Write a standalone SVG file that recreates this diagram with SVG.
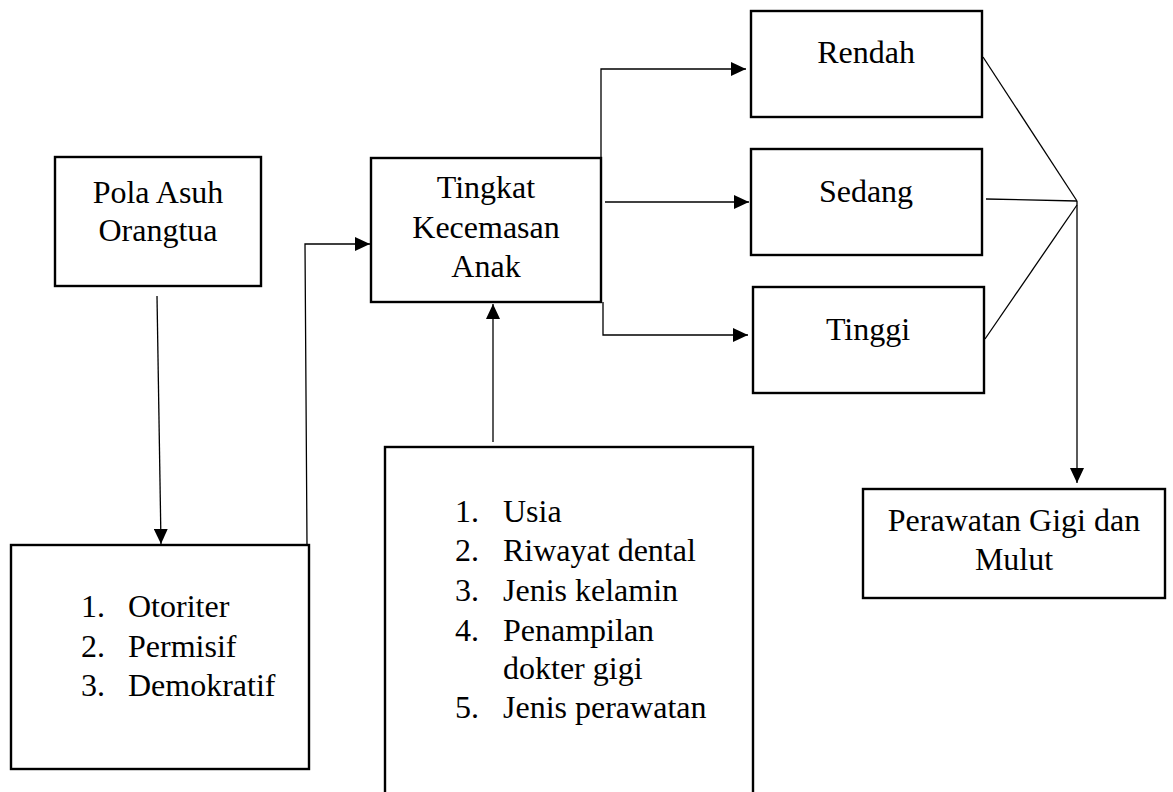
<svg xmlns="http://www.w3.org/2000/svg" width="1173" height="792" viewBox="0 0 1173 792">
<style>
.box{fill:#fff;stroke:#000;stroke-width:2.4}
.t{font-family:"Liberation Serif","Times New Roman",serif;font-size:32px;fill:#000}
.c{text-anchor:middle}
.ln{fill:none;stroke:#000;stroke-width:1.3}
</style>
<defs>
<marker id="ah" markerUnits="userSpaceOnUse" markerWidth="16" markerHeight="14" refX="15" refY="7" orient="auto">
<path d="M0,0 L15,7 L0,14 z" fill="#000"/>
</marker>
</defs>
<rect width="1173" height="792" fill="#fff"/>
<g id="connectors">
<line class="ln" x1="157" y1="296" x2="161" y2="544" marker-end="url(#ah)"/>
<polyline class="ln" points="307,545 305,244 370,244" marker-end="url(#ah)"/>
<line class="ln" x1="493" y1="442" x2="493" y2="304" marker-end="url(#ah)"/>
<polyline class="ln" points="601,158 601,69 746,69" marker-end="url(#ah)"/>
<line class="ln" x1="605" y1="202" x2="749" y2="202" marker-end="url(#ah)"/>
<polyline class="ln" points="603,302 603,335 748,335" marker-end="url(#ah)"/>
<line class="ln" x1="983" y1="57" x2="1077" y2="201"/>
<line class="ln" x1="986" y1="199" x2="1077" y2="201"/>
<line class="ln" x1="985" y1="339" x2="1077" y2="205"/>
<line class="ln" x1="1077" y1="201" x2="1077" y2="483" marker-end="url(#ah)"/>
</g>
<g id="pola-asuh">
<rect class="box" x="55" y="157" width="206" height="129"/>
<text class="t c" x="158" y="203">Pola Asuh</text>
<text class="t c" x="158" y="241">Orangtua</text>
</g>
<g id="jenis-pola">
<rect class="box" x="11" y="545" width="298" height="224"/>
<text class="t" x="81" y="617">1.</text><text class="t" x="128" y="617">Otoriter</text>
<text class="t" x="81" y="657">2.</text><text class="t" x="128" y="657">Permisif</text>
<text class="t" x="81" y="696">3.</text><text class="t" x="128" y="696">Demokratif</text>
</g>
<g id="tingkat">
<rect class="box" x="371" y="158" width="230" height="144"/>
<text class="t c" x="486" y="198">Tingkat</text>
<text class="t c" x="486" y="238">Kecemasan</text>
<text class="t c" x="486" y="277">Anak</text>
</g>
<g id="faktor">
<rect class="box" x="385" y="447" width="368" height="360"/>
<text class="t" x="455" y="522">1.</text><text class="t" x="503" y="522">Usia</text>
<text class="t" x="455" y="561">2.</text><text class="t" x="503" y="561">Riwayat dental</text>
<text class="t" x="455" y="601">3.</text><text class="t" x="503" y="601">Jenis kelamin</text>
<text class="t" x="455" y="641">4.</text><text class="t" x="503" y="641">Penampilan</text>
<text class="t" x="503" y="679">dokter gigi</text>
<text class="t" x="455" y="718">5.</text><text class="t" x="503" y="718">Jenis perawatan</text>
</g>
<g id="rendah">
<rect class="box" x="751" y="11" width="231" height="106"/>
<text class="t c" x="866" y="63">Rendah</text>
</g>
<g id="sedang">
<rect class="box" x="751" y="149" width="231" height="106"/>
<text class="t c" x="866" y="202">Sedang</text>
</g>
<g id="tinggi">
<rect class="box" x="753" y="287" width="231" height="106"/>
<text class="t c" x="868" y="340">Tinggi</text>
</g>
<g id="perawatan">
<rect class="box" x="863" y="489" width="302" height="109"/>
<text class="t c" x="1014" y="531">Perawatan Gigi dan</text>
<text class="t c" x="1014" y="570">Mulut</text>
</g>
</svg>
